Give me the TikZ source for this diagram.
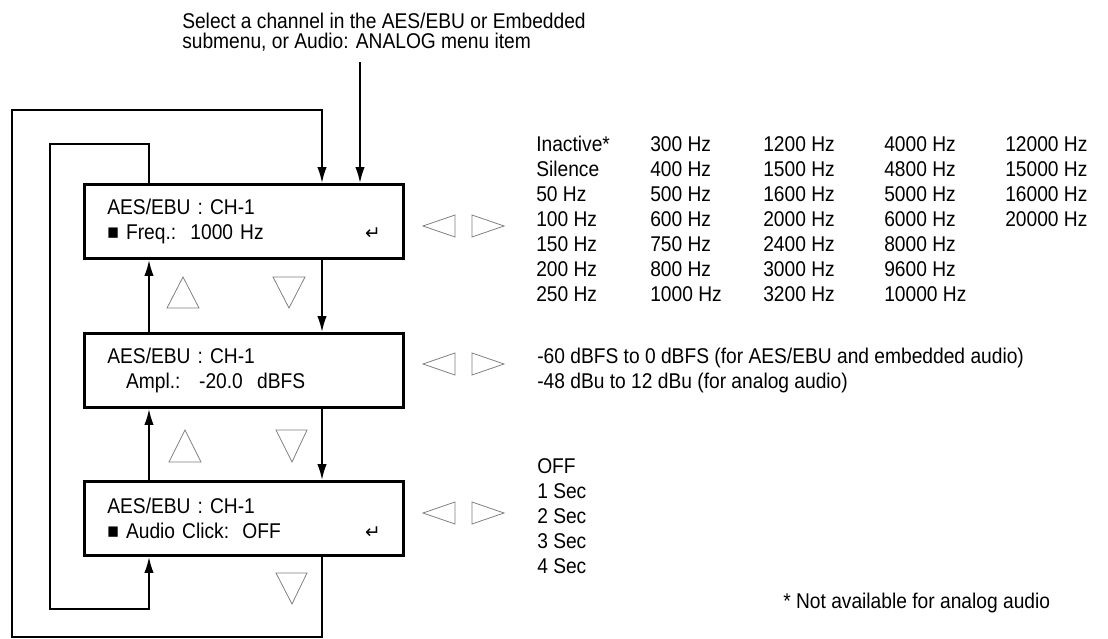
\documentclass[tikz,border=0pt]{standalone}
\usepackage{fontspec}
\setmainfont[FakeStretch=0.9]{Liberation Sans}
\newfontfamily\keyfont{DejaVu Sans}
\usetikzlibrary{arrows.meta}
\newcommand{\retkey}{{\keyfont\fontsize{14pt}{14pt}\selectfont ↵}}
\begin{document}
\begin{tikzpicture}[x=0.75pt,y=-0.75pt,
  menubox/.style={draw,line width=2.4pt,minimum width=239pt,minimum height=55pt,
    text width=205pt,inner xsep=17pt,align=left},
  conn/.style={line width=1.5pt},
  tip/.style={-{Latex[length=12pt,width=7pt]}},
  keytri/.style={draw=gray,line width=0.6pt},
  lbl/.style={anchor=base west,inner sep=0pt}]
\useasboundingbox (0,0) rectangle (1108,639);
\fontsize{16pt}{18.75pt}\selectfont
% menu boxes
\node[menubox] (boxA) at (244,221.5) {AES/EBU : CH-1\\ ■ Freq.:\ \ 1000 Hz\hfill\retkey\hspace*{11pt}};
\node[menubox] (boxB) at (244,370.5) {AES/EBU : CH-1\\ \phantom{■} Ampl.:\hspace{14pt}-20.0\ \ dBFS};
\node[menubox] (boxC) at (244,518.5) {AES/EBU : CH-1\\ ■ Audio Click:\hspace{10pt}OFF\hfill\retkey\hspace*{11pt}};
% coordinates
\coordinate (inSel) at (360,62);
\coordinate (outTR) at (322,110);
\coordinate (outTL) at ( 12,110);
\coordinate (outBL) at ( 12,637);
\coordinate (outBR) at (322,637);
\coordinate (inTR)  at (149,144);
\coordinate (inTL)  at ( 50,144);
\coordinate (inBL)  at ( 50,609);
\coordinate (inBR)  at (149,609);
% entry label
\node[lbl] (selA) at (182,28) {Select a channel in the AES/EBU or Embedded};
\node[lbl] (selB) at (182,48) {submenu, or Audio: ANALOG menu item};
% connectors
\draw[conn,tip] (inSel) -- (inSel |- boxA.north);
\draw[conn,tip] (boxC.south -| outBR) -- (outBR) -- (outBL) -- (outTL) -- (outTR) -- (outTR |- boxA.north);
\draw[conn,tip] (boxA.north -| inTR) -- (inTR) -- (inTL) -- (inBL) -- (inBR) -- (inBR |- boxC.south);
\draw[conn,tip] (boxB.north -| inTR) -- (boxA.south -| inTR);
\draw[conn,tip] (boxC.north -| inTR) -- (boxB.south -| inTR);
\draw[conn,tip] (boxA.south -| outTR) -- (boxB.north -| outTR);
\draw[conn,tip] (boxB.south -| outTR) -- (boxC.north -| outTR);
% up/down keys
\draw[keytri] (167,308) -- (199,308) -- (183,277) -- cycle;
\draw[keytri] (273,277) -- (305,277) -- (289,308) -- cycle;
\draw[keytri] (169,462) -- (201,462) -- (185,430) -- cycle;
\draw[keytri] (276,430) -- (307,430) -- (292,462) -- cycle;
\draw[keytri] (276,573) -- (307,573) -- (292,604) -- cycle;
% left/right keys
\draw[keytri] (423,226) -- (455,215) -- (455,237) -- cycle;
\draw[keytri] (472,215) -- (472,237) -- (504,226) -- cycle;
\draw[keytri] (423,364) -- (455,353) -- (455,375) -- cycle;
\draw[keytri] (472,353) -- (472,375) -- (504,364) -- cycle;
\draw[keytri] (423,513) -- (455,502) -- (455,524) -- cycle;
\draw[keytri] (472,502) -- (472,524) -- (504,513) -- cycle;
% frequency values
\foreach \v [count=\i] in {Inactive*,Silence,50 Hz,100 Hz,150 Hz,200 Hz,250 Hz}
  \node[lbl] (fqA\i) at (536,126+25*\i) {\v};
\foreach \v [count=\i] in {300 Hz,400 Hz,500 Hz,600 Hz,750 Hz,800 Hz,1000 Hz}
  \node[lbl] (fqB\i) at (650,126+25*\i) {\v};
\foreach \v [count=\i] in {1200 Hz,1500 Hz,1600 Hz,2000 Hz,2400 Hz,3000 Hz,3200 Hz}
  \node[lbl] (fqC\i) at (763,126+25*\i) {\v};
\foreach \v [count=\i] in {4000 Hz,4800 Hz,5000 Hz,6000 Hz,8000 Hz,9600 Hz,10000 Hz}
  \node[lbl] (fqD\i) at (884,126+25*\i) {\v};
\foreach \v [count=\i] in {12000 Hz,15000 Hz,16000 Hz,20000 Hz}
  \node[lbl] (fqE\i) at (1005,126+25*\i) {\v};
% amplitude range
\node[lbl] (ampA) at (537,363) {-60 dBFS to 0 dBFS (for AES/EBU and embedded audio)};
\node[lbl] (ampB) at (537,388) {-48 dBu to 12 dBu (for analog audio)};
% click values
\foreach \v [count=\i] in {OFF,1 Sec,2 Sec,3 Sec,4 Sec}
  \node[lbl] (clk\i) at (537,448+25*\i) {\v};
\node[lbl] (note) at (783,608) {* Not available for analog audio};
\end{tikzpicture}
\end{document}
